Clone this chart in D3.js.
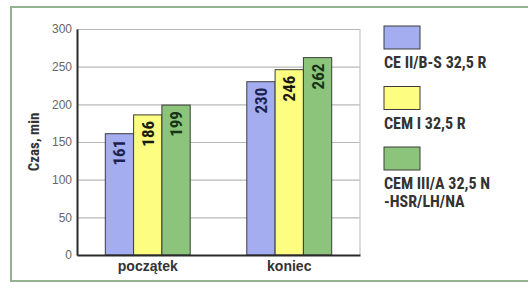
<!DOCTYPE html>
<html>
<head>
<meta charset="utf-8">
<script src="https://cdn.jsdelivr.net/npm/d3@7"></script>
<style>
  body { margin: 0; background: #fff; }
  svg { display: block; font-family: "Liberation Sans Narrow", "Roboto Condensed", "Liberation Sans", sans-serif; }
</style>
</head>
<body>
<svg></svg>
<script>
const width = 528;
const height = 283;

const categories = ["początek", "koniec"];
const series = ["CE II/B-S 32,5 R", "CEM I 32,5 R", "CEM III/A 32,5 N\n-HSR/LH/NA"];
const values = [
  [161, 230],
  [186, 246],
  [199, 262]
];
const yTicks = [0, 50, 100, 150, 200, 250, 300];
const fills = ["#a4adef", "#fdfd82", "#8bc47a"];
const labelColors = ["#1b2250", "#1a1a10", "#153515"];

const margin = { left: 77, right: 168, top: 29, bottom: 28 };

const svg = d3.select("svg").attr("width", width).attr("height", height);

// outer frame
svg.append("rect")
  .attr("x", 11).attr("y", 7)
  .attr("width", width + 10).attr("height", 274)
  .attr("fill", "#fff")
  .attr("stroke", "#93b48e")
  .attr("stroke-width", 2);

const x0 = d3.scaleBand()
  .domain(categories)
  .range([margin.left, width - margin.right])
  .paddingInner(0.4)
  .paddingOuter(0.2);

const x1 = d3.scaleBand()
  .domain(d3.range(series.length))
  .range([0, x0.bandwidth()]);

const y = d3.scaleLinear()
  .domain([0, 300])
  .range([height - margin.bottom, margin.top]);

// grid
svg.append("g")
  .attr("transform", `translate(${margin.left},0)`)
  .call(d3.axisLeft(y).tickValues(yTicks).tickSize(-(width - margin.right - margin.left)).tickFormat(""))
  .call(g => g.select(".domain").remove())
  .call(g => g.selectAll("line").attr("stroke", "#b8b8b8").attr("stroke-width", 1.2));

svg.append("line")
  .attr("x1", width - margin.right).attr("x2", width - margin.right)
  .attr("y1", y(300)).attr("y2", y(0))
  .attr("stroke", "#c4c4c4").attr("stroke-width", 1.2);

// bars
const groups = svg.append("g").selectAll("g")
  .data(categories)
  .join("g")
  .attr("transform", d => `translate(${x0(d)},0)`);

groups.selectAll("rect")
  .data((c, ci) => series.map((s, si) => ({ si, v: values[si][ci] })))
  .join("rect")
  .attr("x", d => x1(d.si))
  .attr("y", d => y(d.v))
  .attr("width", x1.bandwidth())
  .attr("height", d => y(0) - y(d.v))
  .attr("fill", d => fills[d.si])
  .attr("stroke", "#3c3c3c")
  .attr("stroke-width", 1);

groups.selectAll("text")
  .data((c, ci) => series.map((s, si) => ({ si, v: values[si][ci] })))
  .join("text")
  .attr("transform", d => `translate(${x1(d.si) + x1.bandwidth() / 2 + 6},${y(d.v) + 6}) rotate(-90)`)
  .attr("text-anchor", "end")
  .attr("font-size", 17)
  .attr("font-weight", "bold")
  .attr("fill", d => labelColors[d.si])
  .text(d => d.v);

// axes
svg.append("g")
  .attr("transform", `translate(${margin.left},0)`)
  .call(d3.axisLeft(y).tickValues(yTicks).tickSize(0).tickPadding(5))
  .call(g => g.select(".domain").attr("stroke", "#2a2a2a").attr("stroke-width", 2))
  .call(g => g.selectAll("text").attr("font-size", 12).attr("fill", "#666").attr("font-family", "inherit"));

svg.append("g")
  .attr("transform", `translate(0,${y(0)})`)
  .call(d3.axisBottom(x0).tickSize(0).tickPadding(6))
  .call(g => g.select(".domain").attr("stroke", "#2a2a2a").attr("stroke-width", 2))
  .call(g => g.selectAll("text").attr("font-size", 14).attr("font-weight", "bold").attr("fill", "#333").attr("font-family", "inherit"));

svg.append("text")
  .attr("transform", `translate(39,${(y(0) + y(300)) / 2}) rotate(-90)`)
  .attr("text-anchor", "middle")
  .attr("font-size", 15)
  .attr("font-weight", "bold")
  .attr("fill", "#333")
  .text("Czas, min");

// legend
const legend = svg.append("g").selectAll("g")
  .data(series)
  .join("g")
  .attr("transform", (d, i) => `translate(384,${26 + i * 60.5})`);

legend.append("rect")
  .attr("width", 36).attr("height", 23)
  .attr("fill", (d, i) => fills[i])
  .attr("stroke", "#3c3c3c").attr("stroke-width", 1);

legend.append("text")
  .attr("font-size", 16)
  .attr("font-weight", "bold")
  .attr("fill", "#333")
  .selectAll("tspan")
  .data(d => d.split("\n"))
  .join("tspan")
  .attr("x", 0)
  .attr("y", (d, i) => 42 + i * 18)
  .text(d => d);
</script>
</body>
</html>
